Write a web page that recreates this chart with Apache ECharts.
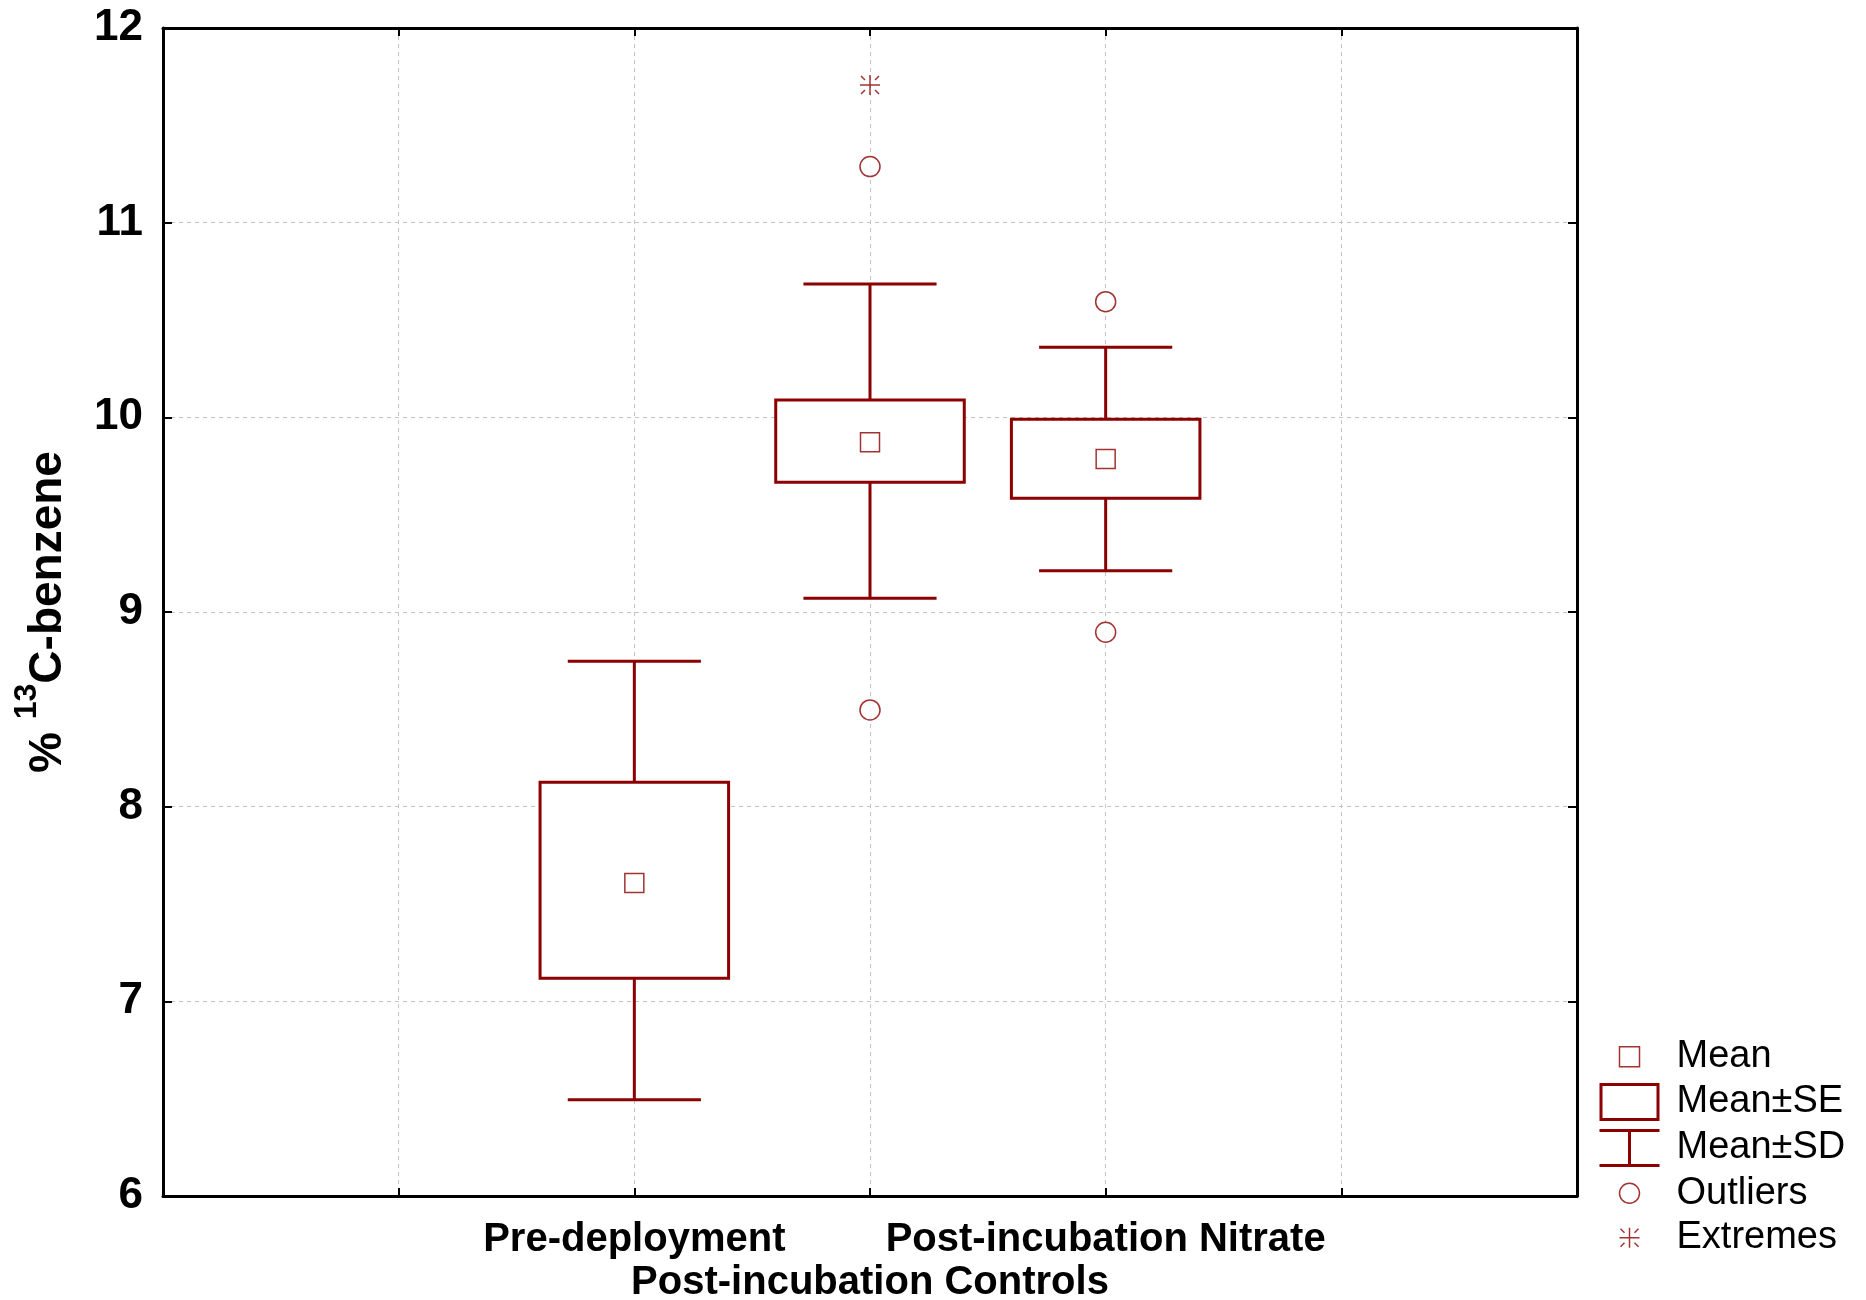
<!DOCTYPE html>
<html>
<head>
<meta charset="utf-8">
<script src="https://cdn.jsdelivr.net/npm/echarts@6/dist/echarts.min.js"></script>
<style>
  html, body { margin: 0; padding: 0; background: #ffffff; }
  #chart { width: 1866px; height: 1300px; }
</style>
</head>
<body>
<div id="chart"></div>
<script>
// ---- data ----
const categories = ['', '', 'Pre-deployment', 'Post-incubation Controls', 'Post-incubation Nitrate', '', ''];
const groupPos = [2, 3, 4];
const means  = [7.608, 9.872, 9.786];
const seLow  = [7.118, 9.666, 9.584];
const seHigh = [8.125, 10.089, 9.990];
const sdLow  = [6.495, 9.070, 9.212];
const sdHigh = [8.747, 10.685, 10.360];
const outlierPoints = [[3, 11.288], [3, 8.497], [4, 10.594], [4, 8.896]];
const extremePoints = [[3, 11.707]];
const yMin = 6, yMax = 12, yStep = 1;

// ---- styles ----
const RED = '#8b0000';
const FONT = '"Liberation Sans", Arial, Helvetica, sans-serif';
const asterisk = 'path://M0,10L20,10M10,0L10,20M1,1L5,5M19,1L15,5M1,19L5,15M19,19L15,15';

const seData = groupPos.map((x, i) => [x, seLow[i], seHigh[i]]);
const sdData = groupPos.map((x, i) => [x, sdLow[i], seLow[i], seHigh[i], sdHigh[i]]);
const meanData = groupPos.map((x, i) => [x, means[i]]);

const chart = echarts.init(document.getElementById('chart'), null, { renderer: 'canvas' });

const frameLine = { show: true, lineStyle: { color: '#000', width: 3 } };

const option = {
  backgroundColor: '#ffffff',
  animation: false,
  grid: { left: 163, right: 289, top: 28, bottom: 104, containLabel: false, outerBoundsMode: 'none' },
  xAxis: [
    {
      type: 'category',
      data: categories,
      boundaryGap: false,
      position: 'bottom',
      axisLine: frameLine,
      axisTick: { show: true, inside: true, length: 8, lineStyle: { color: '#000', width: 2 } },
      axisLabel: {
        interval: 0,
        margin: 22,
        fontFamily: FONT,
        fontWeight: 'bold',
        fontSize: 40,
        lineHeight: 43,
        color: '#000',
        formatter: (v, idx) => (idx === 3 ? '\n' + v : v)
      },
      splitLine: { show: true, lineStyle: { color: '#c4c4c4', width: 1, type: [4, 4] } }
    },
    {
      type: 'category',
      data: categories,
      boundaryGap: false,
      position: 'top',
      axisLine: frameLine,
      axisTick: { show: true, inside: true, length: 8, lineStyle: { color: '#000', width: 2 } },
      axisLabel: { show: false },
      splitLine: { show: false }
    }
  ],
  yAxis: [
    {
      type: 'value',
      min: yMin, max: yMax, interval: yStep,
      position: 'left',
      axisLine: frameLine,
      axisTick: { show: true, inside: true, length: 9, lineStyle: { color: '#000', width: 2 } },
      axisLabel: { margin: 20, fontFamily: FONT, fontWeight: 'bold', fontSize: 44, color: '#000' },
      splitLine: { show: true, lineStyle: { color: '#c4c4c4', width: 1, type: [4, 4] } },
      name: '{a|% }{sup|13}{a|C-benzene}',
      nameLocation: 'middle',
      nameGap: 92,
      nameTextStyle: {
        rich: {
          a: { fontFamily: FONT, fontWeight: 'bold', fontSize: 46, lineHeight: 60, verticalAlign: 'bottom', color: '#000' },
          sup: { fontFamily: FONT, fontWeight: 'bold', fontSize: 32, lineHeight: 32, verticalAlign: 'top', color: '#000' }
        }
      }
    },
    {
      type: 'value',
      min: yMin, max: yMax, interval: yStep,
      position: 'right',
      axisLine: frameLine,
      axisTick: { show: true, inside: true, length: 9, lineStyle: { color: '#000', width: 2 } },
      axisLabel: { show: false },
      splitLine: { show: false }
    }
  ],
  legend: {
    orient: 'vertical',
    left: 1598,
    top: 1037,
    padding: 0,
    itemWidth: 60,
    itemHeight: 38,
    itemGap: 5,
    selectedMode: false,
    textStyle: { fontFamily: FONT, fontSize: 38, lineHeight: 38, color: '#000', padding: [0, 0, 0, 12] },
    data: [
      { name: 'Mean', icon: 'path://M0,0M60,38M20,9L40,9L40,29L20,29Z',
        itemStyle: { color: 'rgba(0,0,0,0)', borderColor: RED, borderWidth: 1.5 } },
      { name: 'Mean±SE', icon: 'path://M0,0M60,38M1.5,1.5L58.5,1.5L58.5,36.5L1.5,36.5Z',
        itemStyle: { color: 'rgba(0,0,0,0)', borderColor: RED, borderWidth: 3 } },
      { name: 'Mean±SD', icon: 'path://M0,0M60,38M0,1.5L60,1.5M30,1.5L30,36.5M0,36.5L60,36.5',
        itemStyle: { color: 'rgba(0,0,0,0)', borderColor: RED, borderWidth: 3 } },
      { name: 'Outliers', icon: 'path://M0,0M60,38M40,19A10,10,0,1,1,20,19A10,10,0,1,1,40,19Z',
        itemStyle: { color: 'rgba(0,0,0,0)', borderColor: RED, borderWidth: 1.5 } },
      { name: 'Extremes', icon: 'path://M0,0M60,38M20,19L40,19M30,9L30,29M21,10L25,14M39,10L35,14M21,28L25,24M39,28L35,24',
        itemStyle: { color: 'rgba(0,0,0,0)', borderColor: RED, borderWidth: 1.5 } }
    ]
  },
  series: [
    {
      name: 'Mean±SD',
      type: 'custom',
      xAxisIndex: 0, yAxisIndex: 0,
      data: sdData,
      encode: { x: 0, y: [1, 2, 3, 4] },
      z: 2,
      renderItem: (params, api) => {
        const x = api.value(0);
        const pLo = api.coord([x, api.value(1)]);
        const pSeLo = api.coord([x, api.value(2)]);
        const pSeHi = api.coord([x, api.value(3)]);
        const pHi = api.coord([x, api.value(4)]);
        const cap = api.size([1, 0])[0] * 0.565;
        const st = { stroke: RED, lineWidth: 3, fill: null };
        return {
          type: 'group',
          children: [
            { type: 'line', shape: { x1: pHi[0], y1: pHi[1], x2: pSeHi[0], y2: pSeHi[1] }, style: st },
            { type: 'line', shape: { x1: pLo[0], y1: pLo[1], x2: pSeLo[0], y2: pSeLo[1] }, style: st },
            { type: 'line', shape: { x1: pHi[0] - cap / 2, y1: pHi[1], x2: pHi[0] + cap / 2, y2: pHi[1] }, style: st },
            { type: 'line', shape: { x1: pLo[0] - cap / 2, y1: pLo[1], x2: pLo[0] + cap / 2, y2: pLo[1] }, style: st }
          ]
        };
      },
      itemStyle: { color: RED }
    },
    {
      name: 'Mean±SE',
      type: 'custom',
      xAxisIndex: 0, yAxisIndex: 0,
      data: seData,
      encode: { x: 0, y: [1, 2] },
      z: 3,
      renderItem: (params, api) => {
        const x = api.value(0);
        const lo = api.coord([x, api.value(1)]);
        const hi = api.coord([x, api.value(2)]);
        const w = api.size([1, 0])[0] * 0.8;
        return {
          type: 'rect',
          shape: { x: lo[0] - w / 2, y: hi[1], width: w, height: lo[1] - hi[1] },
          style: { fill: '#ffffff', stroke: RED, lineWidth: 3 }
        };
      },
      itemStyle: { color: RED }
    },
    {
      name: 'Mean',
      type: 'scatter',
      xAxisIndex: 0, yAxisIndex: 0,
      data: meanData,
      symbol: 'rect',
      symbolSize: 19,
      z: 4,
      itemStyle: { color: '#ffffff', borderColor: RED, borderWidth: 1.5 }
    },
    {
      name: 'Outliers',
      type: 'scatter',
      xAxisIndex: 0, yAxisIndex: 0,
      data: outlierPoints,
      symbol: 'circle',
      symbolSize: 20,
      z: 4,
      itemStyle: { color: '#ffffff', borderColor: RED, borderWidth: 1.5 }
    },
    {
      name: 'Extremes',
      type: 'scatter',
      xAxisIndex: 0, yAxisIndex: 0,
      data: extremePoints,
      symbol: asterisk,
      symbolSize: 20,
      z: 4,
      itemStyle: { color: 'rgba(0,0,0,0)', borderColor: RED, borderWidth: 1.5 }
    }
  ]
};

chart.setOption(option);
</script>
</body>
</html>
